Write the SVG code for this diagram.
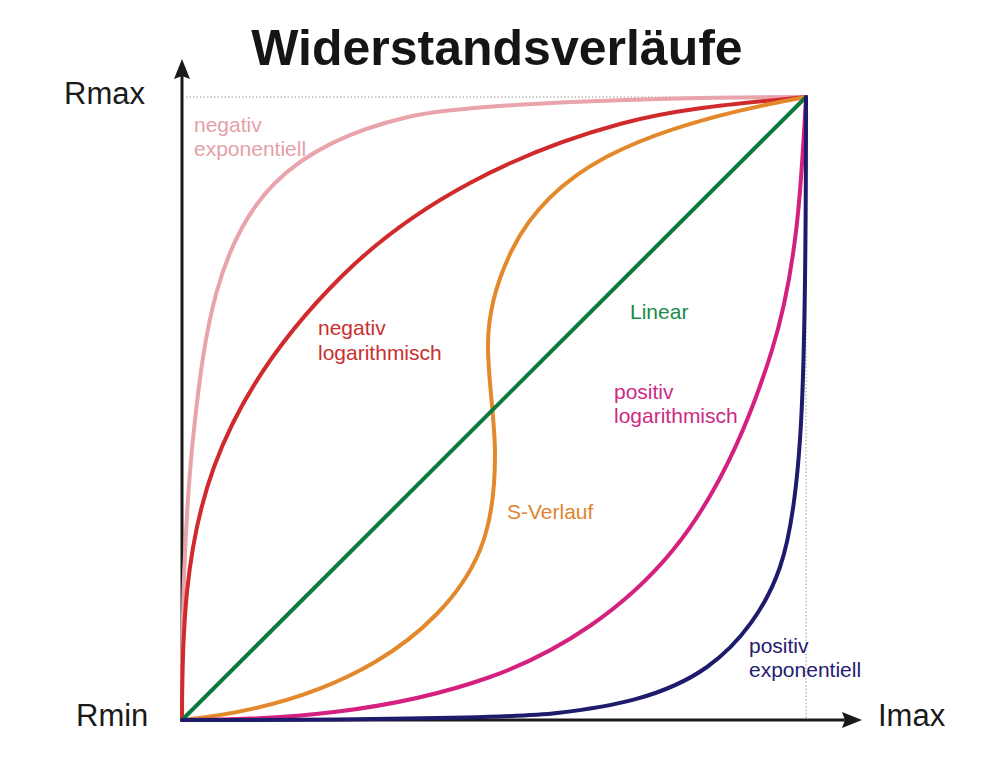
<svg xmlns="http://www.w3.org/2000/svg" width="993" height="768" viewBox="0 0 993 768">
<style>
.t{font-family:"Liberation Sans",Arial,sans-serif}
.lbl{font-family:"Liberation Sans",Arial,sans-serif;font-size:21px}
.ax{font-family:"Liberation Sans",Arial,sans-serif;font-size:31px;fill:#1a1a1a}
.c{fill:none;stroke-width:4;stroke-linecap:round;stroke-linejoin:round}
.dot{fill:none;stroke:#9a9a9a;stroke-width:1;stroke-dasharray:1.5 2}
</style>
<rect width="993" height="768" fill="#ffffff"/>
<text class="t" x="497" y="65" font-size="50" font-weight="bold" text-anchor="middle" fill="#151515">Widerstandsverläufe</text>
<g id="guides">
<line class="dot" x1="186" y1="97" x2="806" y2="97"/>
<line class="dot" x1="806" y1="97" x2="806" y2="718"/>
</g>
<g id="axes">
<line x1="182" y1="722" x2="182" y2="76" stroke="#1a1a1a" stroke-width="3"/>
<polygon points="182,59 190,79 182,76 174,79" fill="#1a1a1a"/>
<line x1="180" y1="720" x2="845" y2="720" stroke="#1a1a1a" stroke-width="3"/>
<polygon points="862,720 842,728 845,720 842,712" fill="#1a1a1a"/>
</g>
<g id="curves">
<path id="neg-exp" class="c" stroke="#e9a3ab" d="M182,720 C182,620 183.8,519.4 195,420 C204.3,337.5 216.3,241.7 275,183 C310,148 359.8,128.2 408,117 C466.4,103.4 656,97 806,97"/>
<path id="neg-log" class="c" stroke="#d12a2c" d="M182,720 C182,635 184.8,546.8 214,467 C240.3,395 287.5,330 342,276 C417,201.7 518.1,151.5 620,124 C680.5,107.7 744,103.2 806,97"/>
<path id="s-verlauf" class="c" stroke="#e3892b" d="M182,720 C248.7,713.3 317.2,696 375,662 C419,636.1 460.7,597.2 480,550 C492.1,520.4 495,487 495,455 C495,418.3 488,381.7 488,345 C488,312.3 497.6,279.3 512,250 C549.5,173.8 628.9,128.7 806,97"/>
<path id="linear" class="c" stroke="#0b7a3c" d="M182,720 L806,97"/>
<path id="pos-log" class="c" stroke="#d4207f" d="M182,720 C285.7,720 392.3,711.7 490,677 C560,652.1 626,607.6 673,550 C720,492.3 750,421 772,350 C797.2,268.8 801.5,181.9 806,97"/>
<path id="pos-exp" class="c" stroke="#1e1a6c" d="M182,720 C307,720 497.4,719.8 557,713 C609,707.1 664.3,697.3 707,667 C740.7,643.1 766.6,606.1 780,567 C802.7,500.7 806,380 806,97"/>
</g>
<g id="labels">
<text class="ax" x="64" y="104">Rmax</text>
<text class="ax" x="76" y="726">Rmin</text>
<text class="ax" x="878" y="726">Imax</text>
<text class="lbl" x="194" y="132" fill="#e59fa8">negativ</text>
<text class="lbl" x="194" y="156" fill="#e59fa8">exponentiell</text>
<text class="lbl" x="318" y="335" fill="#c9302f">negativ</text>
<text class="lbl" x="318" y="360" fill="#c9302f">logarithmisch</text>
<text class="lbl" x="630" y="319" fill="#1a8a4a">Linear</text>
<text class="lbl" x="614" y="399" fill="#cc2a86">positiv</text>
<text class="lbl" x="614" y="423" fill="#cc2a86">logarithmisch</text>
<text class="lbl" x="507" y="519" fill="#e0852e">S-Verlauf</text>
<text class="lbl" x="749" y="653" fill="#24206e">positiv</text>
<text class="lbl" x="749" y="677" fill="#24206e">exponentiell</text>
</g>
</svg>
